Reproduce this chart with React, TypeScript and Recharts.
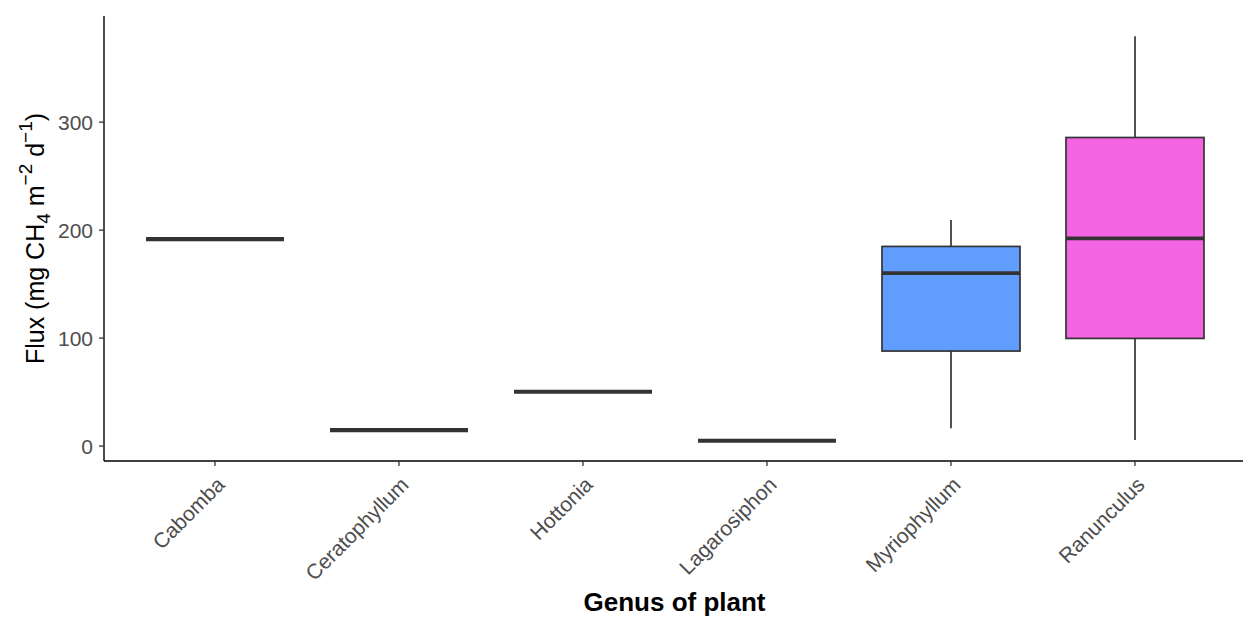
import { ComposedChart, Bar, XAxis, YAxis } from 'recharts';

const genus = ['Cabomba', 'Ceratophyllum', 'Hottonia', 'Lagarosiphon', 'Myriophyllum', 'Ranunculus'];
const minVals = [191.7, 14.8, 50.3, 4.9, 16.4, 5.6];
const q1Vals = [191.7, 14.8, 50.3, 4.9, 88.0, 99.7];
const medianVals = [191.7, 14.8, 50.3, 4.9, 160.2, 192.3];
const q3Vals = [191.7, 14.8, 50.3, 4.9, 184.9, 285.8];
const maxVals = [191.7, 14.8, 50.3, 4.9, 209.3, 379.6];
const fills = ['#F8766D', '#B79F00', '#00BA38', '#00BFC4', '#619CFF', '#F564E3'];
const yTicks = [0, 100, 200, 300];

const data = genus.map((g, i) => ({
  genus: g,
  min: minVals[i],
  q1: q1Vals[i],
  median: medianVals[i],
  q3: q3Vals[i],
  max: maxVals[i],
  fill: fills[i],
}));

// ggplot-style 5% expansion of the value range
const lo = Math.min(...minVals);
const hi = Math.max(...maxVals);
const yDomain = [lo - 0.05 * (hi - lo), hi + 0.05 * (hi - lo)];

const LINE = '#333333';
const FONT = '"Liberation Sans", Arial, sans-serif';

// the bar runs from 0 to max, so its geometry gives the y scale for the other stats
const BoxShape = (props: any) => {
  const { x, y, width, height, payload } = props;
  const k = height / payload.max;
  const py = (v: number) => y + (payload.max - v) * k;
  const cx = x + width / 2;
  const flat = payload.q3 === payload.q1;
  return (
    <g>
      <line x1={cx} x2={cx} y1={py(payload.max)} y2={py(payload.q3)} stroke={LINE} strokeWidth={1.7} />
      <line x1={cx} x2={cx} y1={py(payload.q1)} y2={py(payload.min)} stroke={LINE} strokeWidth={1.7} />
      <rect
        x={x}
        y={py(payload.q3)}
        width={width}
        height={Math.max(0, py(payload.q1) - py(payload.q3))}
        fill={payload.fill}
        stroke={LINE}
        strokeWidth={1.7}
      />
      <line
        x1={x}
        x2={x + width}
        y1={py(payload.median)}
        y2={py(payload.median)}
        stroke={LINE}
        strokeWidth={flat ? 4.2 : 3.8}
      />
    </g>
  );
};

const XTick = (props: any) => {
  const { x, y, payload } = props;
  const bx = x + 11;
  const by = y + 18;
  return (
    <text
      x={bx}
      y={by}
      transform={`rotate(-45, ${bx}, ${by})`}
      textAnchor="end"
      fontSize={21}
      fill="#4D4D4D"
      fontFamily={FONT}
    >
      {payload.value}
    </text>
  );
};

const YTitle = (props: any) => {
  const vb = props.viewBox || {};
  const cy = (vb.y ?? 16) + (vb.height ?? 445) / 2;
  return (
    <text
      transform="rotate(-90)"
      x={-cy}
      y={44}
      textAnchor="middle"
      fontSize={25}
      fill="#000000"
      fontFamily={FONT}
    >
      Flux (mg CH
      <tspan dy={6} fontSize={19}>4</tspan>
      <tspan dy={-6}> m</tspan>
      <tspan dy={-12} fontSize={19}>−2</tspan>
      <tspan dy={12}> d</tspan>
      <tspan dy={-12} fontSize={19}>−1</tspan>
      <tspan dy={12}>)</tspan>
    </text>
  );
};

const XTitle = (props: any) => {
  const vb = props.viewBox || {};
  const cx = (vb.x ?? 104) + (vb.width ?? 1141) / 2;
  return (
    <text x={cx} y={610.5} textAnchor="middle" fontSize={26} fontWeight="bold" fill="#000000" fontFamily={FONT}>
      Genus of plant
    </text>
  );
};

export default function App() {
  return (
    <div
      style={{
        position: 'absolute',
        left: 0,
        top: 0,
        width: 1243,
        height: 621,
        overflow: 'hidden',
        background: '#ffffff',
        fontFamily: FONT,
      }}
    >
      <ComposedChart
        width={1245}
        height={621}
        data={data}
        margin={{ top: 16, right: 0, bottom: 0, left: 0 }}
        barCategoryGap="12.5%"
      >
        <XAxis
          dataKey="genus"
          interval={0}
          height={160}
          padding={{ left: 19, right: 18 }}
          axisLine={{ stroke: '#000000', strokeWidth: 1.4 }}
          tickLine={{ stroke: LINE, strokeWidth: 1.3 }}
          tickSize={5}
          tickMargin={2}
          tick={<XTick />}
          label={XTitle}
        />
        <YAxis
          type="number"
          domain={yDomain}
          ticks={yTicks}
          width={104}
          axisLine={{ stroke: '#000000', strokeWidth: 1.4 }}
          tickLine={{ stroke: LINE, strokeWidth: 1.3 }}
          tickSize={5}
          tickMargin={6}
          tick={{ fontSize: 21, fill: '#4D4D4D', fontFamily: FONT }}
          label={YTitle}
        />
        <Bar dataKey="max" shape={<BoxShape />} isAnimationActive={false} />
      </ComposedChart>
    </div>
  );
}
